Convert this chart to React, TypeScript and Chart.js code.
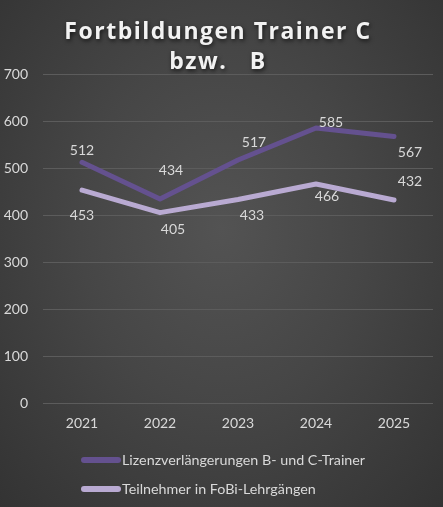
import React, { useEffect, useRef } from "react";
import { Chart, registerables } from "chart.js";

Chart.register(...registerables);

const years = ["2021", "2022", "2023", "2024", "2025"];
const lizenz = [512, 434, 517, 585, 567];
const teilnehmer = [453, 405, 433, 466, 432];
const titleLines = ["Fortbildungen Trainer C", "bzw.   B"];
const seriesNames = ["Lizenzverlängerungen B- und C-Trainer", "Teilnehmer in FoBi-Lehrgängen"];

const FONT = "Lato, 'Open Sans', sans-serif";
const TITLE_FONT = "'Open Sans', Lato, sans-serif";
const TEXT = "#d9d9d9";
const C1 = "#64518f";
const C2 = "#b9aad2";

const decorPlugin = {
  id: "decor",
  afterDatasetsDraw(chart: any) {
    const ctx = chart.ctx;
    ctx.save();
    ctx.font = `14px ${FONT}`;
    ctx.fillStyle = TEXT;
    ctx.textAlign = "center";
    ctx.textBaseline = "middle";
    chart.data.datasets.forEach((ds: any, di: number) => {
      const meta = chart.getDatasetMeta(di);
      meta.data.forEach((pt: any, i: number) => {
        const off = ds.labelOffsets[i];
        ctx.fillText(String(ds.data[i]), pt.x + off[0], pt.y + off[1]);
      });
    });
    ctx.restore();
  },
  afterDraw(chart: any) {
    const ctx = chart.ctx;
    ctx.save();
    ctx.font = `bold 23px ${TITLE_FONT}`;
    ctx.fillStyle = "#f2f2f2";
    ctx.textAlign = "center";
    ctx.textBaseline = "middle";
    ctx.shadowColor = "rgba(0,0,0,0.65)";
    ctx.shadowBlur = 4;
    ctx.shadowOffsetX = 1;
    ctx.shadowOffsetY = 2;
    try { (ctx as any).letterSpacing = "1.5px"; } catch (e) {}
    ctx.fillText(titleLines[0], 218, 32);
    ctx.fillText(titleLines[1], 218, 62);
    ctx.restore();

    ctx.save();
    ctx.font = `14.3px ${FONT}`;
    ctx.textBaseline = "middle";
    ctx.textAlign = "left";
    const rows = [460, 489];
    chart.data.datasets.forEach((ds: any, di: number) => {
      const y = rows[di];
      ctx.strokeStyle = ds.borderColor;
      ctx.lineWidth = 6;
      ctx.lineCap = "round";
      ctx.beginPath();
      ctx.moveTo(84, y);
      ctx.lineTo(118, y);
      ctx.stroke();
      ctx.fillStyle = TEXT;
      ctx.fillText(ds.label, 122, y);
    });
    ctx.restore();
  },
};

export default function App() {
  const ref = useRef<HTMLCanvasElement>(null);
  useEffect(() => {
    document.body.style.margin = "0";
    const chart = new Chart(ref.current!, {
      type: "line",
      data: {
        labels: years,
        datasets: [
          {
            label: seriesNames[0],
            data: lizenz,
            borderColor: C1,
            backgroundColor: C1,
            borderWidth: 5,
            borderCapStyle: "round",
            borderJoinStyle: "round",
            pointRadius: 0,
            tension: 0,
            labelOffsets: [[0, -12], [11, -29], [16, -18], [15, -6], [16, 16]],
          } as any,
          {
            label: seriesNames[1],
            data: teilnehmer,
            borderColor: C2,
            backgroundColor: C2,
            borderWidth: 5,
            borderCapStyle: "round",
            borderJoinStyle: "round",
            pointRadius: 0,
            tension: 0,
            labelOffsets: [[0, 25], [13, 17], [14, 16], [11, 13], [16, -18]],
          } as any,
        ],
      },
      options: {
        animation: false,
        responsive: false,
        maintainAspectRatio: false,
        layout: { padding: { top: 74, right: 10, bottom: 74, left: 0 } },
        plugins: {
          legend: { display: false },
          title: { display: false },
          tooltip: { enabled: false },
        },
        scales: {
          x: {
            offset: true,
            grid: { display: false, drawTicks: false },
            border: { display: false },
            ticks: { color: TEXT, font: { family: FONT, size: 14 }, padding: 12 },
            afterFit: (s: any) => { s.height = 30; },
          },
          y: {
            min: 0,
            max: 700,
            grid: { color: "#5c5c5c", lineWidth: 1, drawTicks: false },
            border: { display: false },
            ticks: { stepSize: 100, color: TEXT, font: { family: FONT, size: 14 }, padding: 15 },
            afterFit: (s: any) => { s.width = 43; },
          },
        },
      },
      plugins: [decorPlugin],
    });
    return () => chart.destroy();
  }, []);
  return (
    <div
      style={{
        position: "absolute",
        left: 0,
        top: 0,
        width: 443,
        height: 507,
        background: "radial-gradient(ellipse at 50% 45%, #535353 0%, #464646 45%, #333333 100%)",
      }}
    >
      <canvas ref={ref} width={443} height={507} />
    </div>
  );
}
